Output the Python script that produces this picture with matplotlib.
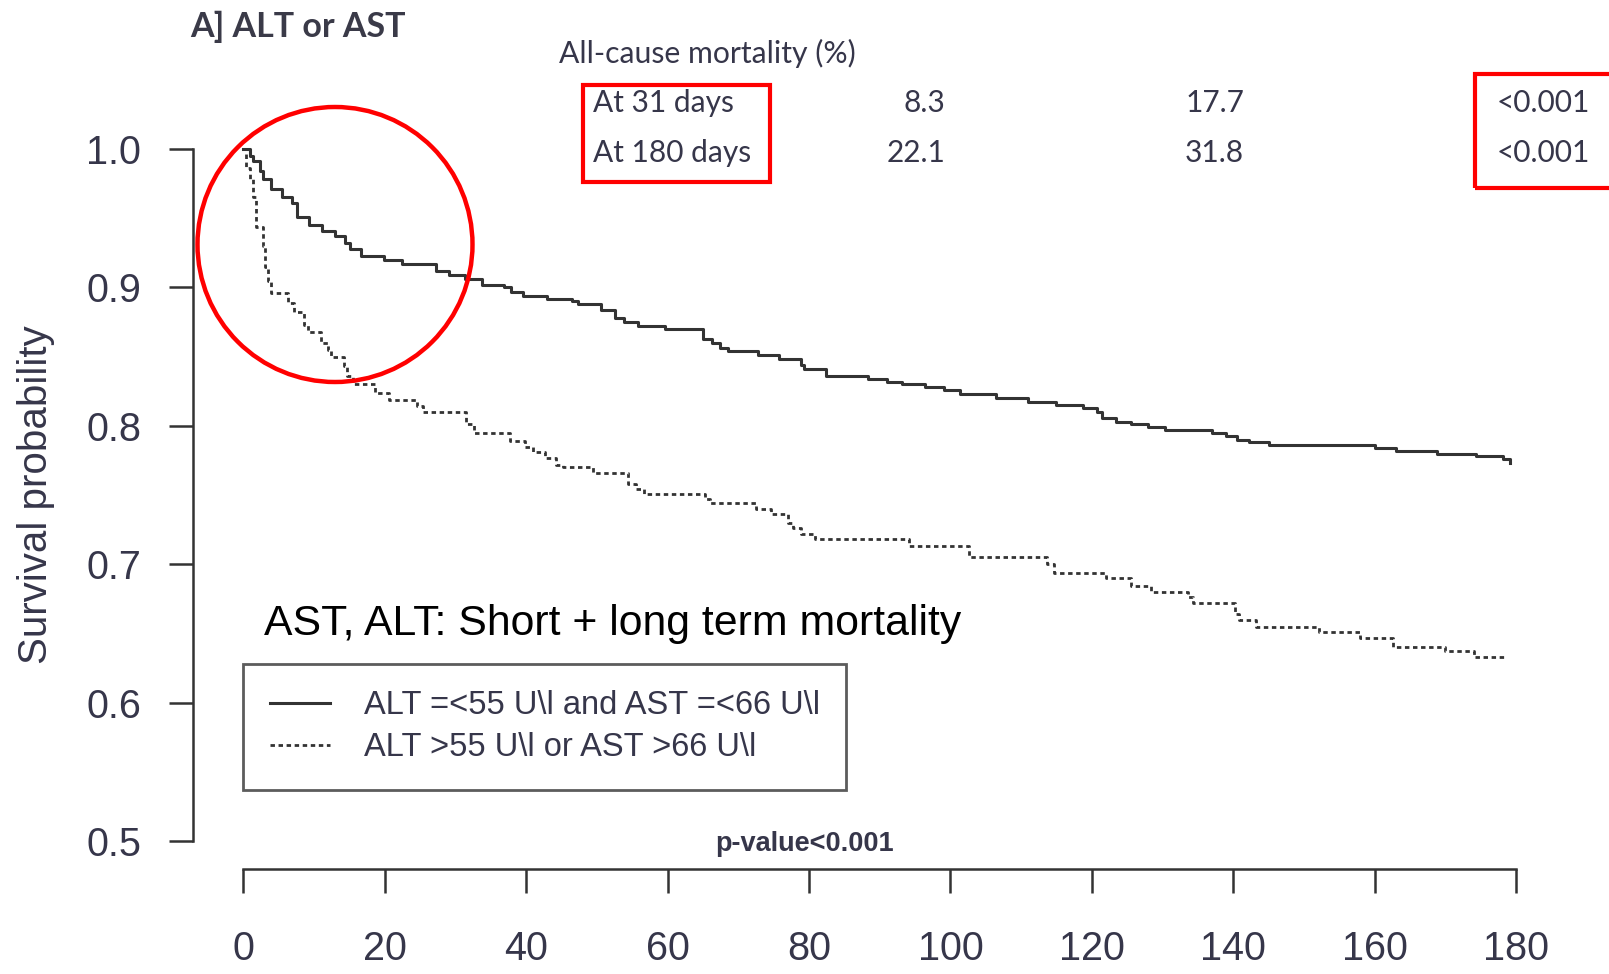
import matplotlib.pyplot as plt
from matplotlib.patches import Rectangle, Ellipse

# Courbes de survie (Kaplan-Meier): temps du saut / valeur après le saut
jours_1 = [0, 0.9, 1.4, 2.3, 2.8, 3.9, 5.5, 6.8, 7.6, 9.2, 11.1, 12.9, 14.4, 15.0, 16.6,
           19.9, 22.4, 27.2, 29.1, 31.4, 33.7, 36.9, 37.8, 39.6, 42.9, 46.5, 47.3, 50.6,
           52.5, 53.8, 55.8, 59.6, 65.0, 66.3, 67.4, 68.6, 72.8, 75.8, 78.8, 79.3, 82.4,
           88.4, 91.1, 93.2, 96.4, 99.1, 101.3, 106.4, 111.0, 115.0, 118.8, 120.8, 121.5,
           123.4, 125.6, 128.0, 130.3, 137.0, 139.0, 140.5, 142.3, 145.0, 160.0, 163.0,
           168.8, 174.4, 178.2, 179.2]
surv_1 = [1.000, 0.995, 0.991, 0.984, 0.978, 0.971, 0.965, 0.961, 0.951, 0.945, 0.941,
          0.937, 0.932, 0.928, 0.923, 0.920, 0.917, 0.912, 0.909, 0.906, 0.902, 0.900,
          0.897, 0.894, 0.892, 0.890, 0.888, 0.884, 0.878, 0.875, 0.872, 0.870, 0.863,
          0.860, 0.856, 0.854, 0.851, 0.848, 0.844, 0.841, 0.836, 0.834, 0.832, 0.830,
          0.828, 0.826, 0.823, 0.820, 0.817, 0.815, 0.813, 0.810, 0.806, 0.803, 0.801,
          0.799, 0.797, 0.795, 0.793, 0.790, 0.788, 0.786, 0.784, 0.782, 0.780, 0.778,
          0.776, 0.773]

jours_2 = [0, 0.3, 0.9, 1.3, 1.8, 2.7, 3.0, 3.5, 3.9, 6.3, 7.2, 8.6, 9.1, 11.0, 11.9,
           12.4, 14.2, 14.6, 15.5, 18.6, 20.6, 24.5, 25.4, 31.5, 32.6, 37.7, 39.8, 41.0,
           42.6, 44.2, 45.2, 49.4, 54.4, 55.5, 56.6, 65.3, 66.0, 72.5, 74.6, 77.0, 77.8,
           78.9, 80.8, 94.2, 102.6, 113.7, 114.6, 122.0, 125.6, 128.4, 133.6, 134.3,
           140.2, 140.8, 143.2, 152.2, 157.9, 162.6, 170.0, 174.1, 178.5]
surv_2 = [1.000, 0.986, 0.978, 0.965, 0.944, 0.930, 0.915, 0.905, 0.896, 0.889, 0.882,
          0.873, 0.868, 0.860, 0.855, 0.850, 0.843, 0.836, 0.830, 0.824, 0.819, 0.814,
          0.810, 0.801, 0.795, 0.789, 0.785, 0.781, 0.777, 0.772, 0.770, 0.766, 0.758,
          0.754, 0.751, 0.747, 0.744, 0.740, 0.736, 0.730, 0.726, 0.722, 0.718, 0.713,
          0.705, 0.700, 0.694, 0.690, 0.684, 0.680, 0.676, 0.672, 0.664, 0.660, 0.655,
          0.651, 0.647, 0.640, 0.637, 0.633, 0.633]

labels = ["ALT =<55 U\\l and AST =<66 U\\l", "ALT >55 U\\l or AST >66 U\\l"]
x_ticks = [0, 20, 40, 60, 80, 100, 120, 140, 160, 180]
y_ticks = [0.5, 0.6, 0.7, 0.8, 0.9, 1.0]

# Tableau de mortalité en haut
lignes_tab = ["At 31 days", "At 180 days"]
mort_1 = ["8.3", "22.1"]
mort_2 = ["17.7", "31.8"]
p_vals = ["<0.001", "<0.001"]

W, H = 1609, 974
gris = "#333333"
texte = "#36364a"
arial = "Liberation Sans"

fig = plt.figure(figsize=(W / 100, H / 100), dpi=100)
ax = fig.add_axes([0.1197, 0.1081, 0.8541, 0.7673])

ax.plot(jours_1, surv_1, drawstyle="steps-post", color=gris, lw=2.2, label=labels[0])
ax.plot(jours_2, surv_2, drawstyle="steps-post", color=gris, lw=2.0,
        linestyle=(0, (1.6, 1.3)), label=labels[1])

# axes façon R (séparés de la zone de tracé)
ax.set_xlim(-7.2, 187.2)
ax.set_ylim(0.48, 1.02)
for s in ["top", "right"]:
    ax.spines[s].set_visible(False)
ax.spines["left"].set_bounds(0.5, 1.0)
ax.spines["bottom"].set_bounds(0, 180)
for s in ["left", "bottom"]:
    ax.spines[s].set_linewidth(1.8)
    ax.spines[s].set_color(gris)

ax.set_xticks(x_ticks)
ax.set_xticklabels([str(v) for v in x_ticks])
ax.set_yticks(y_ticks)
ax.set_yticklabels(["%.1f" % v for v in y_ticks])
ax.tick_params(direction="out", length=17, width=1.8, color=gris, labelcolor=texte, labelsize=28.5)
ax.tick_params(axis="x", pad=27)
ax.tick_params(axis="y", pad=20)
for lab in ax.get_xticklabels() + ax.get_yticklabels():
    lab.set_fontfamily(arial)

ax.set_ylabel("Survival probability", fontsize=29, family=arial, color=texte)
ax.yaxis.set_label_coords(-0.100, 0.5)

leg = ax.legend(loc="upper left", bbox_to_anchor=(0, 0.628), bbox_transform=ax.transData,
                fancybox=False, edgecolor=gris, borderaxespad=0,
                prop={"family": arial, "size": 23.5}, handlelength=1.85,
                handletextpad=1.05, borderpad=0.8, labelspacing=0.35, labelcolor=texte)
leg.get_frame().set_linewidth(2.0)

ax.text(2.9, 0.657, "AST, ALT: Short + long term mortality", fontsize=30.8,
        family=arial, color="black", va="center")
ax.text(66.7, 0.4975, "p-value<0.001", fontsize=19.5, weight="bold",
        family=arial, color=texte, va="center", clip_on=False)

# titre et tableau
fig.text(190 / W, 1 - 26.7 / H, "A] ALT or AST", family="Lato", weight="bold",
         size=24.5, color="#3a3a48", va="center")
fig.text(559 / W, 1 - 53.4 / H, "All-cause mortality (%)", family="Lato", size=21.7,
         color=texte, va="center")
rows_y = [1 - 103 / H, 1 - 153 / H]
for i in range(2):
    fig.text(593 / W, rows_y[i], lignes_tab[i], family="Lato", size=21.5, color=texte, va="center")
    fig.text(945 / W, rows_y[i], mort_1[i], family="Lato", size=21.5, color=texte,
             va="center", ha="right")
    fig.text(1244 / W, rows_y[i], mort_2[i], family="Lato", size=21.5, color=texte,
             va="center", ha="right")
    fig.text(1590 / W, rows_y[i], p_vals[i], family="Lato", size=21.5, color=texte,
             va="center", ha="right")

# annotations rouges
fig.add_artist(Rectangle((583.3 / W, 1 - 181.7 / H), (770 - 583.3) / W, (181.7 - 85) / H,
                         transform=fig.transFigure, fill=False, ec="red", lw=3))
fig.add_artist(Rectangle((1474.6 / W, 1 - 187.8 / H), (1615 - 1474.6) / W, (187.8 - 73.9) / H,
                         transform=fig.transFigure, fill=False, ec="red", lw=3))
fig.add_artist(Ellipse((335 / W, 1 - 244.5 / H), 275 / W, 275 / H,
                       transform=fig.transFigure, fill=False, ec="red", lw=3.2))

fig.savefig("out.png", dpi=100)
